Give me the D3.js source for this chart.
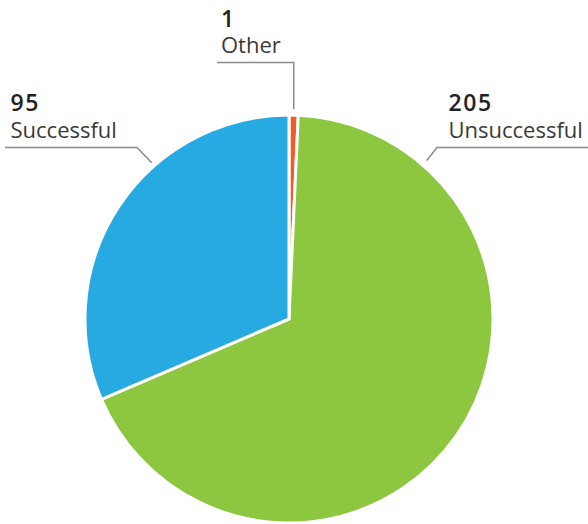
<!DOCTYPE html>
<html><head><meta charset="utf-8">
<script src="https://cdn.jsdelivr.net/npm/d3@7/dist/d3.min.js"></script>
<style>body{margin:0;background:#fff;}svg{display:block;}</style>
</head><body>
<svg id="chart" width="588" height="524"></svg>
<script>
const categories = ["Other", "Unsuccessful", "Successful"];
const values = [1, 205, 95];
const colors = ["#F15A29", "#8DC63F", "#27A9E1"];

const W = 588, H = 524, cx = 289, cy = 319, R = 204;
const svg = d3.select("#chart");
const g = svg.append("g").attr("transform", `translate(${cx},${cy})`);

const data = categories.map((c, i) => ({cat: c, value: values[i], color: colors[i]}));
let arcs = d3.pie().sort(null).value(d => d.value).startAngle(0).endAngle(2 * Math.PI)(data);
// enforce a minimum visible angle for tiny slices (rendering only)
const minA = 2.6 * Math.PI / 180;
const small = arcs.filter(a => a.endAngle - a.startAngle < minA);
if (small.length) {
  const extra = small.reduce((s, a) => s + (minA - (a.endAngle - a.startAngle)), 0);
  const bigTotal = arcs.filter(a => a.endAngle - a.startAngle >= minA).reduce((s, a) => s + a.endAngle - a.startAngle, 0);
  let ang = 0;
  arcs.forEach(a => {
    const span = a.endAngle - a.startAngle;
    const ns = span < minA ? minA : span * (bigTotal - extra) / bigTotal;
    a.startAngle = ang; a.endAngle = ang + ns; ang += ns;
  });
}
const arc = d3.arc().innerRadius(0).outerRadius(R);
g.selectAll("path").data(arcs).join("path")
  .attr("d", arc).attr("fill", d => d.data.color)
  .attr("stroke", "#fff").attr("stroke-width", 3).attr("stroke-linejoin", "round");

// labels
const lineColor = "#8a8a8a";
const labelG = svg.append("g");
const FONT = "'Open Sans', Lato, sans-serif";
function label(x, yNum, yCat, num, cat) {
  labelG.append("text").attr("x", x).attr("y", yNum).text(num)
    .attr("font-family", FONT).attr("font-weight", 600)
    .attr("font-size", 23).attr("letter-spacing", 1.6).attr("fill", "#222");
  labelG.append("text").attr("x", x).attr("y", yCat).text(cat)
    .attr("font-family", FONT).attr("font-weight", 400)
    .attr("font-size", 22).attr("fill", "#3a3a3a");
}
const byCat = {};
arcs.forEach(a => byCat[a.data.cat] = a);
function edgePoint(angle, r) { return [cx + r * Math.sin(angle), cy - r * Math.cos(angle)]; }

// Other
{
  const a = byCat["Other"];
  const mid = (a.startAngle + a.endAngle) / 2;
  const p = edgePoint(mid, R + 6);
  label(221, 26.5, 53, String(a.data.value), a.data.cat);
  labelG.append("path").attr("d", `M217,62.5H${p[0]}V${p[1]}`)
    .attr("fill", "none").attr("stroke", lineColor).attr("stroke-width", 1.5);
}
// Successful
{
  const a = byCat["Successful"];
  const p = edgePoint(-41.3 * Math.PI / 180, R + 4);
  label(10.5, 110.5, 137.5, String(a.data.value), a.data.cat);
  labelG.append("path").attr("d", `M5,147.5H137L${p[0]},${p[1]}`)
    .attr("fill", "none").attr("stroke", lineColor).attr("stroke-width", 1.5);
}
// Unsuccessful
{
  const a = byCat["Unsuccessful"];
  const p = edgePoint(41 * Math.PI / 180, R + 6);
  label(448.5, 110.5, 138, String(a.data.value), a.data.cat);
  labelG.append("path").attr("d", `M${p[0]},${p[1]}L437,147.5H588`)
    .attr("fill", "none").attr("stroke", lineColor).attr("stroke-width", 1.5);
}
</script>
</body></html>
